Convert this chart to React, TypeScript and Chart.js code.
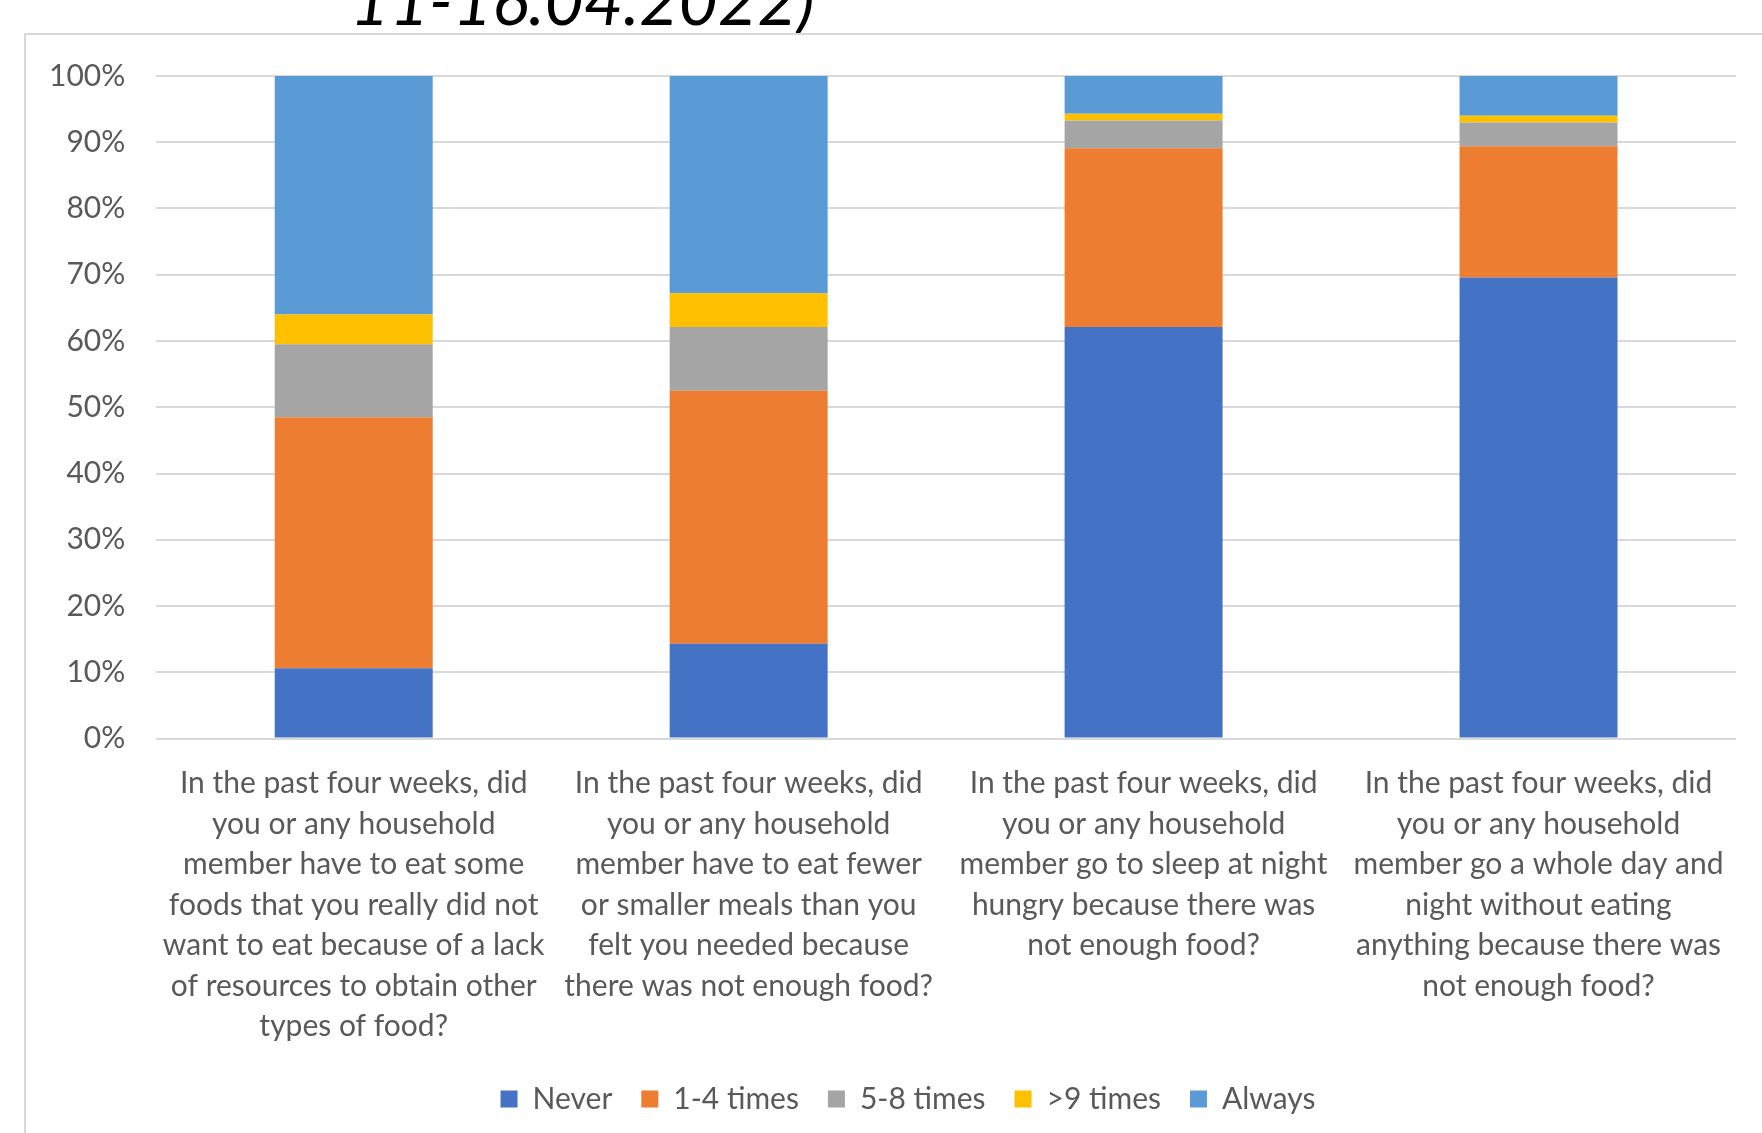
import React, { useEffect, useRef } from "react";
import { Chart, registerables } from "chart.js";

Chart.register(...registerables);

const categories: string[][] = [
  ["In the past four weeks, did", "you or any household", "member have to eat some", "foods that you really did not", "want to eat because of a lack", "of resources to obtain other", "types of food?"],
  ["In the past four weeks, did", "you or any household", "member have to eat fewer", "or smaller meals than you", "felt you needed because", "there was not enough food?"],
  ["In the past four weeks, did", "you or any household", "member go to sleep at night", "hungry because there was", "not enough food?"],
  ["In the past four weeks, did", "you or any household", "member go a whole day and", "night without eating", "anything because there was", "not enough food?"],
];

const seriesNames = ["Never", "1-4 times", "5-8 times", ">9 times", "Always"];
const never = [10.6, 14.3, 62.1, 69.6];
const times1to4 = [37.9, 38.2, 27.0, 19.8];
const times5to8 = [11.0, 9.6, 4.2, 3.6];
const times9plus = [4.5, 5.1, 1.0, 1.0];
const always = [36.0, 32.8, 5.7, 6.0];
const seriesColors = ["#4472C4", "#ED7D31", "#A5A5A5", "#FFC000", "#5B9BD5"];
const yTicks = [0, 10, 20, 30, 40, 50, 60, 70, 80, 90, 100];
const titleText = "11-16.04.2022)";

export default function App() {
  const canvasRef = useRef<HTMLCanvasElement | null>(null);

  useEffect(() => {
    if (!canvasRef.current) return;
    const values = [never, times1to4, times5to8, times9plus, always];
    const font = { family: "Lato", size: 30 };
    const chart = new Chart(canvasRef.current, {
      type: "bar",
      data: {
        labels: categories,
        datasets: seriesNames.map((name, i) => ({
          label: name,
          data: values[i],
          backgroundColor: seriesColors[i],
          borderWidth: 0,
          categoryPercentage: 1,
          barPercentage: 0.4,
        })),
      },
      options: {
        responsive: false,
        animation: false,
        devicePixelRatio: 1,
        layout: { padding: { top: 0, left: 0, right: 0, bottom: 0 } },
        plugins: {
          title: { display: false },
          tooltip: { enabled: false },
          legend: {
            position: "bottom",
            labels: {
              boxWidth: 17,
              boxHeight: 17,
              padding: 29,
              color: "#595959",
              font,
            },
          },
        },
        scales: {
          x: {
            stacked: true,
            grid: { display: false },
            border: { display: false },
            ticks: {
              color: "#595959",
              font: { ...font, lineHeight: 1.35 },
              maxRotation: 0,
              minRotation: 0,
              autoSkip: false,
              padding: 17,
            },
            afterFit: (scale: any) => {
              scale.height = scale.height - 9;
            },
          },
          y: {
            stacked: true,
            min: 0,
            max: 100,
            afterBuildTicks: (scale: any) => {
              scale.ticks = yTicks.map((v) => ({ value: v }));
            },
            grid: { color: "#d9d9d9", lineWidth: 2, drawTicks: false },
            border: { display: false },
            ticks: {
              color: "#595959",
              font,
              padding: 31,
              callback: (v: any) => v + "%",
            },
          },
          yRight: {
            position: "right",
            display: true,
            grid: { display: false, drawTicks: false },
            border: { display: false },
            ticks: { display: false },
            afterFit: (scale: any) => {
              scale.width = 62;
            },
          },
        },
      },
    });
    return () => chart.destroy();
  }, []);

  return (
    <div style={{ position: "fixed", left: 0, top: 0, width: "100vw", height: "100vh", overflow: "hidden", background: "#fff" }}>
      <div
        style={{
          position: "absolute",
          left: 350,
          top: -35,
          fontFamily: "Lato",
          fontStyle: "italic",
          fontSize: 68,
          lineHeight: "68px",
          color: "#000",
          whiteSpace: "nowrap",
        }}
      >
        {titleText}
      </div>
      <div
        style={{
          position: "absolute",
          left: 24,
          top: 33,
          width: 1820,
          height: 1200,
          borderLeft: "2px solid #d9d9d9",
          borderTop: "2px solid #d9d9d9",
          boxSizing: "border-box",
        }}
      >
        <canvas
          ref={canvasRef}
          width={1780}
          height={1097}
          style={{ position: "absolute", left: -8, top: -8, display: "block", width: 1780, height: 1097 }}
        />
      </div>
    </div>
  );
}
